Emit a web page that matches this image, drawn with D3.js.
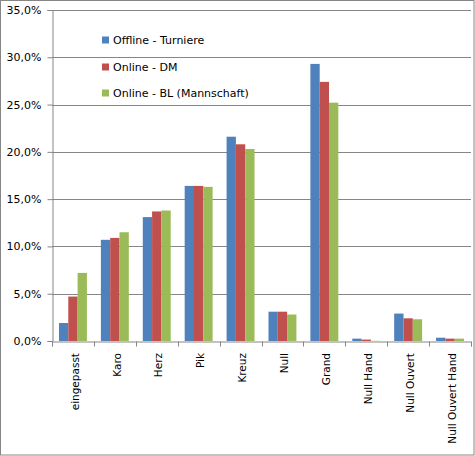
<!DOCTYPE html>
<html>
<head>
<meta charset="utf-8">
<script src="https://cdn.jsdelivr.net/npm/d3@7"></script>
<style>
  body { margin: 0; background: #fff; }
  svg { display: block; }
</style>
</head>
<body>
<div id="chart"></div>
<script>
// categories and series (percent values)
const categories = ["eingepasst", "Karo", "Herz", "Pik", "Kreuz", "Null", "Grand", "Null Hand", "Null Ouvert", "Null Ouvert Hand"];
const seriesNames = ["Offline - Turniere", "Online - DM", "Online - BL (Mannschaft)"];
const offlineTurniere = [1.9, 10.7, 13.1, 16.4, 21.6, 3.1, 29.3, 0.25, 2.9, 0.35];
const onlineDM = [4.7, 10.9, 13.7, 16.4, 20.8, 3.1, 27.4, 0.15, 2.4, 0.25];
const onlineBL = [7.2, 11.5, 13.8, 16.3, 20.3, 2.8, 25.2, 0.02, 2.3, 0.25];
const yTicks = [0, 5, 10, 15, 20, 25, 30, 35];

const seriesValues = [offlineTurniere, onlineDM, onlineBL];
const colors = ["#4F81BD", "#C0504D", "#9BBB59"];

var W = 475, H = 456;
var margin = { top: 10, right: 4, bottom: 115, left: 52 },
  width = 471 - margin.left,
  height = 341 - margin.top;

var svg = d3
  .select("#chart")
  .append("svg")
  .attr("width", W)
  .attr("height", H);

// outer border
svg
  .append("rect")
  .attr("x", 0.5)
  .attr("y", 0.5)
  .attr("width", W - 1.5)
  .attr("height", H - 1.5)
  .attr("fill", "#fff")
  .attr("stroke", "#868686");

var g = svg
  .append("g")
  .attr("transform", "translate(" + margin.left + "," + margin.top + ")");

var x = d3.scaleBand().domain(categories).range([0, width]).padding(0);
var xSub = d3
  .scaleBand()
  .domain(d3.range(seriesNames.length))
  .range([x.bandwidth() / 6, (x.bandwidth() * 5) / 6])
  .padding(0);
var y = d3.scaleLinear().domain([0, 35]).range([height, 0]);

var fmt = (v) => v.toFixed(1).replace(".", ",") + "%";

// gridlines
g.append("g")
  .selectAll("line")
  .data(yTicks.filter((t) => t > 0))
  .enter()
  .append("line")
  .attr("x1", 0)
  .attr("x2", width)
  .attr("y1", (d) => Math.round(y(d)) + 0.5)
  .attr("y2", (d) => Math.round(y(d)) + 0.5)
  .attr("stroke", "#868686");

// Y axis
var yAxis = g
  .append("g")
  .attr("transform", "translate(0.5,0)")
  .call(d3.axisLeft(y).tickValues(yTicks).tickSize(5).tickPadding(6).tickFormat(fmt));
yAxis.selectAll("path, line").attr("stroke", "#868686");
yAxis
  .selectAll("text")
  .attr("fill", "#000")
  .style("font-family", "DejaVu Sans, sans-serif")
  .style("font-size", "11px");

// bars
g.append("g")
  .selectAll("g")
  .data(categories)
  .enter()
  .append("g")
  .attr("transform", (d) => "translate(" + x(d) + ",0)")
  .selectAll("rect")
  .data((d, i) => seriesValues.map((s, k) => ({ k: k, value: s[i] })))
  .enter()
  .append("rect")
  .attr("x", (d) => xSub(d.k))
  .attr("y", (d) => y(d.value))
  .attr("width", xSub.bandwidth())
  .attr("height", (d) => height - y(d.value))
  .attr("fill", (d) => colors[d.k]);

// X axis
var xAxis = g
  .append("g")
  .attr("transform", "translate(0," + (Math.round(height) + 0.5) + ")")
  .call(d3.axisBottom(x).tickSize(5).tickFormat(""));
xAxis.selectAll("path").attr("stroke", "#868686");
// ticks at band boundaries, not centers
xAxis.selectAll(".tick").remove();
xAxis
  .selectAll("line.bound")
  .data(categories.concat(["end"]))
  .enter()
  .append("line")
  .attr("class", "bound")
  .attr("x1", (d, i) => Math.round(i * x.bandwidth()) + 0.5)
  .attr("x2", (d, i) => Math.round(i * x.bandwidth()) + 0.5)
  .attr("y1", 0)
  .attr("y2", 5)
  .attr("stroke", "#868686");

// rotated category labels
g.append("g")
  .selectAll("text")
  .data(categories)
  .enter()
  .append("text")
  .attr("transform", (d) => "translate(" + (x(d) + x.bandwidth() / 2 + 2) + "," + (height + 12) + ")rotate(-90)")
  .attr("text-anchor", "end")
  .attr("dy", "0.35em")
  .style("font-family", "DejaVu Sans, sans-serif")
  .style("font-size", "10.5px")
  .attr("fill", "#000")
  .text((d) => d);

// legend
var legend = svg
  .append("g")
  .selectAll("g")
  .data(seriesNames)
  .enter()
  .append("g")
  .attr("transform", (d, i) => "translate(102," + [40, 67, 93][i] + ")");
legend
  .append("rect")
  .attr("x", 0)
  .attr("y", -3.5)
  .attr("width", 7)
  .attr("height", 7)
  .attr("fill", (d, i) => colors[i]);
legend
  .append("text")
  .attr("x", 11)
  .attr("dy", "0.35em")
  .style("font-family", "DejaVu Sans, sans-serif")
  .style("font-size", "11px")
  .attr("fill", "#000")
  .text((d) => d);
</script>
</body>
</html>
